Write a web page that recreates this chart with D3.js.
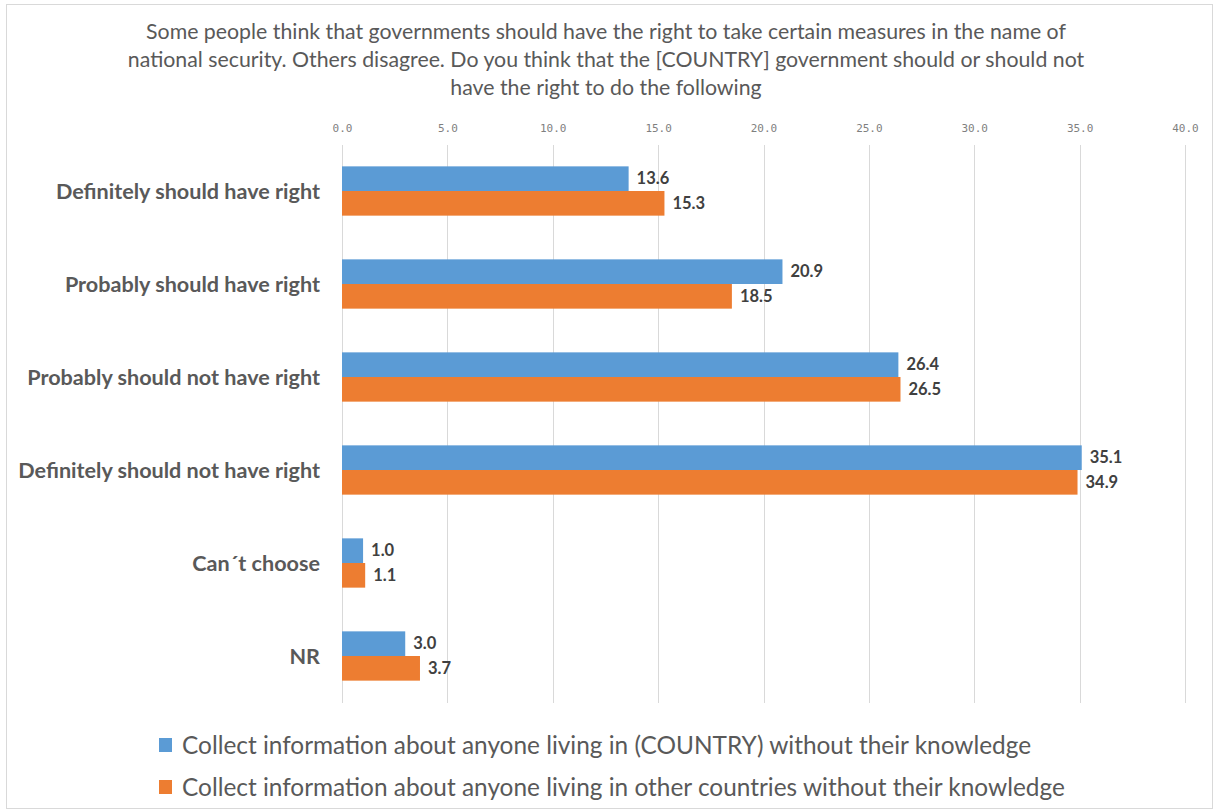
<!DOCTYPE html>
<html>
<head>
<meta charset="utf-8">
<script src="https://cdn.jsdelivr.net/npm/d3@7"></script>
<style>
  html, body { margin: 0; padding: 0; background: #ffffff; }
  svg { display: block; }
</style>
</head>
<body>
<svg id="chart" width="1215" height="811"></svg>
<script>
// Survey answers on government rights in the name of national security
const categories = [
  "Definitely should have right",
  "Probably should have right",
  "Probably should not have right",
  "Definitely should not have right",
  "Can\u00b4t choose",
  "NR"
];
const seriesNames = [
  "Collect information about anyone living in (COUNTRY) without their knowledge",
  "Collect information about anyone living in other countries without their knowledge"
];
const domesticValues = [13.6, 20.9, 26.4, 35.1, 1.0, 3.0];
const foreignValues  = [15.3, 18.5, 26.5, 34.9, 1.1, 3.7];
const xTicks = [0, 5, 10, 15, 20, 25, 30, 35, 40];
const titleLines = [
  "Some people think that governments should have the right to take certain measures in the name of",
  "national security. Others disagree. Do you think that the [COUNTRY] government should or should not",
  "have the right to do the following"
];

const colors = ["#5b9bd5", "#ed7d31"];
const seriesValues = [domesticValues, foreignValues];

const svg = d3.select("#chart");
const W = 1215, H = 811;

// outer frame
svg.append("rect")
  .attr("x", 6.5).attr("y", 4.5)
  .attr("width", W - 9).attr("height", H - 7)
  .attr("fill", "#fff").attr("stroke", "#d9d9d9").attr("stroke-width", 1);

// title
const title = svg.append("text")
  .attr("text-anchor", "middle")
  .attr("fill", "#595959")
  .style("font-family", "Lato, 'Open Sans', sans-serif")
  .style("font-size", "21.3px");
titleLines.forEach((t, i) => {
  title.append("tspan").attr("x", 606).attr("y", 39 + i * 28).text(t);
});

const x = d3.scaleLinear().domain([0, 40]).range([342, 1185]);
const y = d3.scaleBand().domain(categories).range([144.5, 702.5])
  .paddingInner(0.47).paddingOuter(0.235);
const ySub = d3.scaleBand().domain([0, 1]).range([0, y.bandwidth()]);

// vertical gridlines
svg.append("g")
  .selectAll("line")
  .data(xTicks)
  .join("line")
  .attr("x1", d => Math.round(x(d)) + 0.5)
  .attr("x2", d => Math.round(x(d)) + 0.5)
  .attr("y1", 145).attr("y2", 703)
  .attr("stroke", "#d9d9d9").attr("stroke-width", 1);

// top axis labels
const xAxis = d3.axisTop(x).tickValues(xTicks).tickFormat(d3.format(".1f")).tickSize(0).tickPadding(0);
const gx = svg.append("g").attr("transform", "translate(0,132)").call(xAxis);
gx.select(".domain").remove();
gx.selectAll("text")
  .attr("fill", "#7f7f7f")
  .style("font-family", "'DejaVu Sans Mono', monospace")
  .style("font-size", "11px");

// category labels
svg.append("g")
  .selectAll("text")
  .data(categories)
  .join("text")
  .attr("x", 320)
  .attr("y", d => y(d) + y.bandwidth() / 2)
  .attr("dy", "0.35em")
  .attr("text-anchor", "end")
  .attr("fill", "#595959")
  .style("font-family", "Lato, 'Open Sans', sans-serif")
  .style("font-weight", "bold")
  .style("font-size", "21.6px")
  .text(d => d);

// bars and value labels
seriesValues.forEach((vals, s) => {
  const g = svg.append("g");
  g.selectAll("rect")
    .data(vals)
    .join("rect")
    .attr("x", x(0))
    .attr("y", (d, i) => y(categories[i]) + ySub(s))
    .attr("width", d => x(d) - x(0))
    .attr("height", ySub.bandwidth())
    .attr("fill", colors[s]);
  g.selectAll("text")
    .data(vals)
    .join("text")
    .attr("x", d => x(d) + 8)
    .attr("y", (d, i) => y(categories[i]) + ySub(s) + ySub.bandwidth() / 2)
    .attr("dy", "0.35em")
    .attr("fill", "#404040")
    .style("font-family", "Lato, 'Open Sans', sans-serif")
    .style("font-weight", "bold")
    .style("font-size", "16.5px")
    .text(d => d3.format(".1f")(d));
});

// legend
const legend = svg.append("g");
seriesNames.forEach((name, s) => {
  const ly = 745 + s * 42;
  legend.append("rect")
    .attr("x", 159).attr("y", ly - 7)
    .attr("width", 13).attr("height", 14)
    .attr("fill", colors[s]);
  legend.append("text")
    .attr("x", 182).attr("y", ly)
    .attr("dy", "0.35em")
    .attr("fill", "#595959")
    .style("font-family", "Lato, 'Open Sans', sans-serif")
    .style("font-size", "24.4px")
    .text(name);
});
</script>
</body>
</html>
